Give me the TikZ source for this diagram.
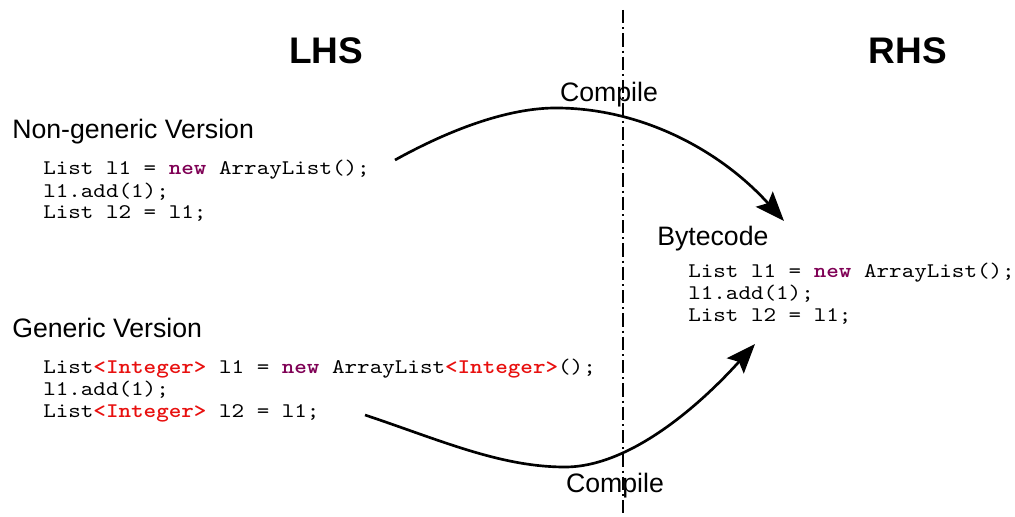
\documentclass[tikz,border=0pt]{standalone}
\usepackage{fontspec}
\setmainfont{Liberation Sans}
\setmonofont{lmmono10-regular.otf}[FakeStretch=1.15, BoldFont=lmmonolt10-bold.otf]
\usetikzlibrary{arrows.meta}
\definecolor{javakeyword}{HTML}{7F0055}
\definecolor{javagenerics}{HTML}{E8100F}
\newcommand\javakw[1]{\textbf{\textcolor{javakeyword}{#1}}}
\newcommand\javagen[1]{\textbf{\textcolor{javagenerics}{#1}}}
\begin{document}
\begin{tikzpicture}[x=0.75pt,y=-0.75pt,
  side/.style={font=\fontsize{27.75}{30}\selectfont\bfseries, inner sep=0, anchor=base},
  heading/.style={font=\fontsize{20}{24}\selectfont, inner sep=0, anchor=base west},
  steplabel/.style={font=\fontsize{20}{24}\selectfont, inner sep=0, anchor=base},
  code/.style={font=\fontsize{15.6}{18}\selectfont\ttfamily, inner sep=0, anchor=base west},
  flow/.style={line width=2pt, -{Stealth[length=22pt,width=17pt,inset=4pt]}},
  divider/.style={line width=1.1pt, dash pattern=on 10pt off 3pt on 1.5pt off 3pt}]
  \fill[white] (0,0) rectangle (1015,517);
  \useasboundingbox (0,0) rectangle (1015,517);

  % divider between source side and bytecode side
  \coordinate (div-top) at (623,10);
  \coordinate (div-bot) at (623,517);
  \draw[divider] (div-top) -- (div-bot);

  % side titles
  \node[side] (lhs) at (326,64) {LHS};
  \node[side] (rhs) at (908,64) {RHS};

  % non-generic source
  \node[heading] (ng-title) at (12,138) {Non-generic Version};
  \node[code] (ng1) at (43,175) {List l1 = \javakw{new} ArrayList();};
  \node[code] (ng2) at (43,197) {l1.add(1);};
  \node[code] (ng3) at (43,219) {List l2 = l1;};

  % generic source
  \node[heading] (g-title) at (12,337) {Generic Version};
  \node[code] (g1) at (43,373) {List\javagen{<Integer>} l1 = \javakw{new} ArrayList\javagen{<Integer>}();};
  \node[code] (g2) at (43,395) {l1.add(1);};
  \node[code] (g3) at (43,417) {List\javagen{<Integer>} l2 = l1;};

  % resulting bytecode
  \node[heading] (bc-title) at (657,245) {Bytecode};
  \node[code] (bc1) at (688,277) {List l1 = \javakw{new} ArrayList();};
  \node[code] (bc2) at (688,299) {l1.add(1);};
  \node[code] (bc3) at (688,321) {List l2 = l1;};

  % compile arrows
  \node[steplabel] (compile-top) at (609,102) {Compile};
  \node[steplabel] (compile-bot) at (615,492) {Compile};
  \coordinate (up-start) at (395,160);
  \coordinate (up-peak) at (553,108);
  \coordinate (up-end) at (784,221);
  \coordinate (lo-start) at (365,415);
  \coordinate (lo-low) at (565,467);
  \coordinate (lo-end) at (755,344);
  \draw[flow] (up-start) .. controls (440,135) and (500,109) .. (up-peak)
                         .. controls (640,107) and (720,150) .. (up-end);
  \draw[flow] (lo-start) .. controls (440,440) and (500,467) .. (lo-low)
                         .. controls (630,467) and (700,405) .. (lo-end);
\end{tikzpicture}
\end{document}
